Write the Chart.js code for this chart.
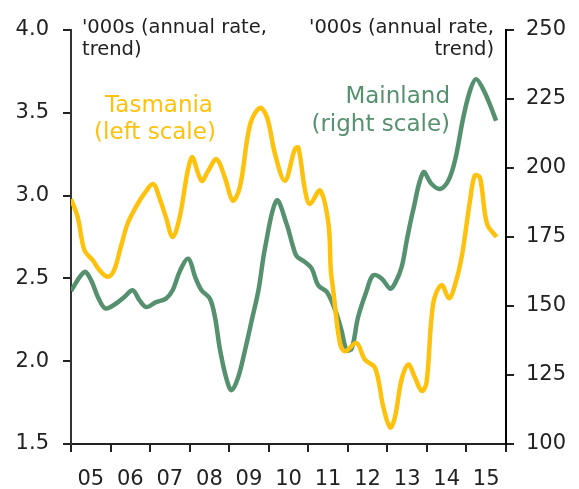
<!DOCTYPE html>
<html>
<head>
<meta charset="utf-8">
<script src="https://cdn.jsdelivr.net/npm/chart.js@4.4.1/dist/chart.umd.min.js"></script>
<style>
  html, body { margin: 0; padding: 0; background: #fff; }
  #wrap { width: 579px; height: 489px; }
</style>
</head>
<body>
<div id="wrap"><canvas id="myChart"></canvas></div>
<script>
// Tasmania, '000s annual rate (left scale)
const tasYear = [2005.00, 2005.17, 2005.34, 2005.55, 2005.72, 2005.93, 2006.09, 2006.26, 2006.43, 2006.64,
  2006.85, 2007.08, 2007.23, 2007.40, 2007.57, 2007.74, 2008.05, 2008.30, 2008.47, 2008.68,
  2008.89, 2009.09, 2009.27, 2009.53, 2009.78, 2009.96, 2010.16, 2010.41, 2010.66, 2010.75,
  2010.92, 2011.04, 2011.30, 2011.51, 2011.57, 2011.63, 2011.80, 2011.93, 2012.22, 2012.43,
  2012.69, 2012.90, 2013.07, 2013.19, 2013.36, 2013.53, 2013.70, 2013.87, 2013.99, 2014.16,
  2014.37, 2014.56, 2014.71, 2014.88, 2015.09, 2015.21, 2015.34, 2015.52, 2015.76];
const tasValues = [2.98, 2.87, 2.67, 2.61, 2.55, 2.51, 2.55, 2.69, 2.83, 2.93,
  3.01, 3.07, 2.99, 2.87, 2.75, 2.86, 3.23, 3.09, 3.15, 3.22,
  3.11, 2.97, 3.05, 3.43, 3.53, 3.47, 3.25, 3.09, 3.28, 3.29,
  3.03, 2.95, 3.03, 2.83, 2.55, 2.43, 2.11, 2.06, 2.11, 2.01,
  1.96, 1.72, 1.60, 1.66, 1.89, 1.98, 1.90, 1.82, 1.87, 2.35,
  2.46, 2.38, 2.46, 2.63, 2.97, 3.12, 3.11, 2.83, 2.75];

// Mainland, '000s annual rate (right scale)
const mainYear = [2005.00, 2005.34, 2005.51, 2005.68, 2005.87, 2006.14, 2006.35, 2006.56, 2006.73, 2006.90,
  2007.15, 2007.40, 2007.57, 2007.76, 2007.97, 2008.14, 2008.30, 2008.51, 2008.64, 2008.77,
  2008.94, 2009.06, 2009.23, 2009.40, 2009.57, 2009.74, 2009.91, 2010.20, 2010.45, 2010.62,
  2010.71, 2010.92, 2011.09, 2011.25, 2011.47, 2011.68, 2011.84, 2011.97, 2012.10, 2012.26,
  2012.48, 2012.64, 2012.86, 2013.07, 2013.19, 2013.36, 2013.49, 2013.65, 2013.91, 2014.12,
  2014.33, 2014.54, 2014.71, 2014.92, 2015.09, 2015.24, 2015.42, 2015.59, 2015.75];
const mainValues = [155.5, 162.3, 159.3, 153.3, 149.1, 150.9, 153.3, 155.7, 152.1, 149.6,
  151.4, 152.7, 155.7, 162.9, 167.1, 160.5, 155.7, 152.7, 146.0, 134.0,
  123.1, 119.5, 124.3, 134.0, 144.8, 155.7, 171.3, 188.2, 179.8, 171.3,
  168.0, 165.9, 163.5, 157.5, 155.1, 148.5, 141.2, 134.0, 134.6, 146.0,
  155.7, 161.1, 159.9, 156.3, 158.1, 164.1, 173.7, 184.6, 198.4, 194.2,
  192.4, 195.4, 202.7, 218.3, 228.0, 232.2, 228.6, 223.1, 217.1];

const yearLabels = ['05', '06', '07', '08', '09', '10', '11', '12', '13', '14', '15'];

const tasColor = '#FDC10E';
const mainColor = '#55906F';
const inkColor = '#222222';
const fontFam = '"DejaVu Sans", sans-serif';

const toPoints = (xs, ys) => xs.map((x, i) => ({ x: x, y: ys[i] }));

// text notes inside the chart
const notes = {
  id: 'notes',
  afterDraw(chart) {
    const c = chart.ctx;
    c.save();
    c.textBaseline = 'alphabetic';
    c.font = '19.5px ' + fontFam;
    c.fillStyle = inkColor;
    c.textAlign = 'left';
    c.fillText("'000s (annual rate,", 82, 33);
    c.fillText('trend)', 82, 55);
    c.textAlign = 'right';
    c.fillText("'000s (annual rate,", 494, 33);
    c.fillText('trend)', 494, 55);

    c.font = '23px ' + fontFam;
    c.fillStyle = tasColor;
    c.textAlign = 'center';
    c.fillText('Tasmania', 159, 112);
    c.fillText('(left scale)', 155, 139);

    c.fillStyle = mainColor;
    c.textAlign = 'right';
    c.fillText('Mainland', 450, 103);
    c.fillText('(right scale)', 450, 131);
    c.restore();
  }
};

const ctx = document.getElementById('myChart');
new Chart(ctx, {
  type: 'line',
  data: {
    datasets: [{
      label: 'Tasmania',
      data: toPoints(tasYear, tasValues),
      borderColor: tasColor,
      borderWidth: 4.5,
      pointRadius: 0,
      tension: 0.35,
      yAxisID: 'y'
    }, {
      label: 'Mainland',
      data: toPoints(mainYear, mainValues),
      borderColor: mainColor,
      borderWidth: 4.5,
      pointRadius: 0,
      tension: 0.35,
      yAxisID: 'y2'
    }]
  },
  options: {
    responsive: true,
    maintainAspectRatio: false,
    animation: false,
    layout: { padding: { top: 30, left: 0, right: 0, bottom: 0 } },
    plugins: { legend: { display: false }, tooltip: { enabled: false } },
    scales: {
      x: {
        type: 'linear',
        min: 2005,
        max: 2016,
        afterFit: s => { s.height = 45; },
        ticks: {
          stepSize: 0.5,
          autoSkip: false,
          maxRotation: 0,
          color: inkColor,
          font: { family: fontFam, size: 21 },
          padding: 15,
          callback: v => {
            const k = Math.round((v - 2005.5));
            return (Math.abs(v - Math.floor(v) - 0.5) < 0.01) ? yearLabels[k] : '';
          }
        },
        grid: {
          drawOnChartArea: false,
          tickLength: 8,
          lineWidth: 2,
          tickColor: c => Number.isInteger(c.tick.value) ? inkColor : 'rgba(0,0,0,0)'
        },
        border: { color: inkColor, width: 2 }
      },
      y: {
        position: 'left',
        min: 1.5,
        max: 4,
        afterFit: s => { s.width = 71; },
        ticks: {
          stepSize: 0.5,
          color: inkColor,
          font: { family: fontFam, size: 21 },
          padding: 14,
          callback: v => v.toFixed(1)
        },
        grid: { drawOnChartArea: false, tickLength: 8, lineWidth: 2, tickColor: inkColor },
        border: { color: '#333', width: 2 }
      },
      y2: {
        position: 'right',
        min: 100,
        max: 250,
        afterFit: s => { s.width = 73; },
        ticks: {
          stepSize: 25,
          color: inkColor,
          font: { family: fontFam, size: 21 },
          padding: 12
        },
        grid: { drawOnChartArea: false, tickLength: 8, lineWidth: 2, tickColor: inkColor },
        border: { color: '#000', width: 2 }
      }
    }
  },
  plugins: [notes]
});
</script>
</body>
</html>
